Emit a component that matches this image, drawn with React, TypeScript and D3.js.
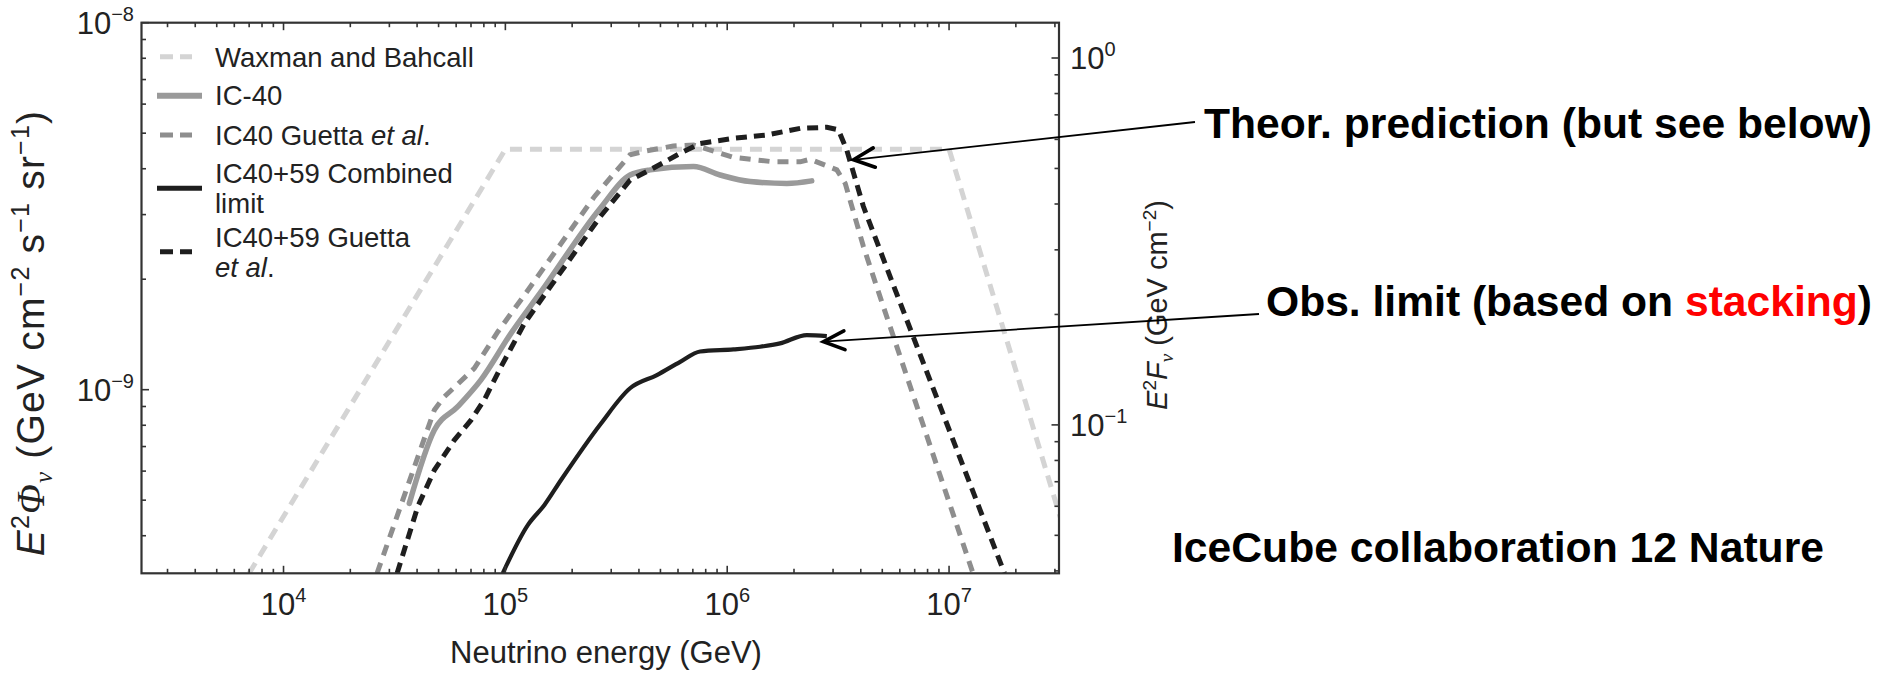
import React from "react";
import * as d3 from "d3";

// ---------- data ----------
const energyDomain: [number, number] = [2290, 3.13e7]; // GeV
const fluxDomain: [number, number] = [3.16e-10, 1e-8]; // E^2 Phi
const fluenceDomain: [number, number] = [0.0394, 1.248]; // E^2 F

const xTickExponents = ["4", "5", "6", "7"];
const xTickValues = [1e4, 1e5, 1e6, 1e7];
const yTickValues = [1e-9, 1e-8];
const yTickExponents = ["−9", "−8"];
const yRightTickValues = [0.1, 1];
const yRightTickExponents = ["−1", "0"];

type P = [number, number];

const waxmanBahcall: P[] = [
  [7000, 3.16e-10],
  [1.0e5, 4.52e-9],
  [1.0e7, 4.52e-9],
  [3.2e7, 4.41e-10],
];

const ic40: P[] = [
  [36900, 4.9e-10],
  [47860, 7.76e-10],
  [60950, 8.99e-10],
  [77620, 1.064e-9],
  [1.062e5, 1.426e-9],
  [1.449e5, 1.849e-9],
  [2.673e5, 3.119e-9],
  [3.648e5, 3.846e-9],
  [4.498e5, 3.972e-9],
  [7.047e5, 4.055e-9],
  [9.29e5, 3.846e-9],
  [1.268e6, 3.69e-9],
  [1.858e6, 3.648e-9],
  [2.404e6, 3.707e-9],
];

const ic40Guetta: P[] = [
  [26400, 3.16e-10],
  [47860, 8.81e-10],
  [53100, 9.57e-10],
  [72400, 1.143e-9],
  [92500, 1.439e-9],
  [1.219e5, 1.811e-9],
  [2.518e5, 3.357e-9],
  [3.648e5, 4.365e-9],
  [4.178e5, 4.457e-9],
  [5.715e5, 4.613e-9],
  [7.047e5, 4.645e-9],
  [1.067e6, 4.295e-9],
  [1.614e6, 4.178e-9],
  [2.133e6, 4.178e-9],
  [2.366e6, 4.246e-9],
  [3.119e6, 3.972e-9],
  [3.404e6, 3.648e-9],
  [4.111e6, 2.455e-9],
  [4.887e6, 1.791e-9],
  [1.282e7, 3.16e-10],
];

const combinedLimit: P[] = [
  [97270, 3.16e-10],
  [1.262e5, 4.276e-10],
  [1.5e5, 4.853e-10],
  [1.782e5, 5.675e-10],
  [2.698e5, 8.091e-10],
  [3.648e5, 1.009e-9],
  [4.819e5, 1.096e-9],
  [6.138e5, 1.191e-9],
  [7.551e5, 1.271e-9],
  [1.067e6, 1.288e-9],
  [1.406e6, 1.309e-9],
  [1.73e6, 1.337e-9],
  [2.286e6, 1.409e-9],
  [2.812e6, 1.4e-9],
];

const combinedGuetta: P[] = [
  [32510, 3.16e-10],
  [40270, 4.8e-10],
  [47860, 6.04e-10],
  [58880, 7.29e-10],
  [69980, 8.26e-10],
  [80350, 9.38e-10],
  [95720, 1.156e-9],
  [1.219e5, 1.517e-9],
  [1.5e5, 1.811e-9],
  [2.673e5, 2.958e-9],
  [3.648e5, 3.724e-9],
  [4.498e5, 3.972e-9],
  [6.138e5, 4.406e-9],
  [7.551e5, 4.688e-9],
  [1.067e6, 4.842e-9],
  [1.51e6, 4.943e-9],
  [2.133e6, 5.152e-9],
  [2.812e6, 5.188e-9],
  [3.17e6, 5.105e-9],
  [3.459e6, 4.498e-9],
  [4.111e6, 3.155e-9],
  [5.715e6, 1.871e-9],
  [1.778e7, 3.16e-10],
];

// annotation targets (data space)
const theorTarget: P = [3.71e6, 4.23e-9];
const obsTarget: P = [2.716e6, 1.352e-9];

// ---------- layout ----------
const W = 1879;
const H = 674;
const L = 141.5, T = 22.7, R = 1059, B = 573.3;
const FONT = "'Liberation Sans', Arial, Helvetica, sans-serif";
const SERIF = "'Liberation Serif', 'DejaVu Serif', serif";
const BOLDNARROW = "'Liberation Sans Narrow', 'Arial Narrow', 'Liberation Sans', Arial, sans-serif";

const C_WB = "#d4d4d4";
const C_IC40 = "#9a9a9a";
const C_G40 = "#8e8e8e";
const C_BLACK = "#1e1e1e";

function Arrow({ tip, tail, len = 23, ang = 25 }: { tip: P; tail: P; len?: number; ang?: number }) {
  const dir = Math.atan2(tail[1] - tip[1], tail[0] - tip[0]);
  const a1 = dir - (ang * Math.PI) / 180;
  const a2 = dir + (ang * Math.PI) / 180;
  const p1: P = [tip[0] + len * Math.cos(a1), tip[1] + len * Math.sin(a1)];
  const p2: P = [tip[0] + len * Math.cos(a2), tip[1] + len * Math.sin(a2)];
  return (
    <g>
      <line x1={tip[0]} y1={tip[1]} x2={tail[0]} y2={tail[1]} stroke="#000" strokeWidth={1.8} />
      <polyline
        points={`${p1[0]},${p1[1]} ${tip[0]},${tip[1]} ${p2[0]},${p2[1]}`}
        fill="none"
        stroke="#000"
        strokeWidth={3.6}
        strokeLinecap="round"
        strokeLinejoin="miter"
      />
    </g>
  );
}

export default function App() {
  const x = d3.scaleLog().domain(energyDomain).range([L, R]);
  const y = d3.scaleLog().domain(fluxDomain).range([B, T]);
  const yR = d3.scaleLog().domain(fluenceDomain).range([B, T]);

  const lin = d3.line<P>().x((d) => x(d[0])).y((d) => y(d[1]));
  const smooth = d3
    .line<P>()
    .x((d) => x(d[0]))
    .y((d) => y(d[1]))
    .curve(d3.curveMonotoneX);

  const isMajor = (v: number) => Math.abs(Math.log10(v) - Math.round(Math.log10(v))) < 1e-6;
  const xt = x.ticks();
  const yt = y.ticks();
  const yrt = yR.ticks();

  const tipT: P = [x(theorTarget[0]), y(theorTarget[1])];
  const tipO: P = [x(obsTarget[0]), y(obsTarget[1])];

  return (
    <svg width={W} height={H} style={{ display: "block", position: "absolute", left: 0, top: 0 }} fontFamily={FONT}>
      <rect width={W} height={H} fill="#fff" />
      <defs>
        <clipPath id="plot">
          <rect x={L} y={T} width={R - L} height={B - T} />
        </clipPath>
      </defs>

      {/* series */}
      <g clipPath="url(#plot)" fill="none">
        <path d={lin(waxmanBahcall) || ""} stroke={C_WB} strokeWidth={5} strokeDasharray="12 8" />
        <path d={lin(ic40Guetta) || ""} stroke={C_G40} strokeWidth={5} strokeDasharray="11 8" />
        <path d={smooth(ic40) || ""} stroke={C_IC40} strokeWidth={5.5} strokeLinecap="round" />
        <path d={lin(combinedGuetta) || ""} stroke={C_BLACK} strokeWidth={5} strokeDasharray="11 7" />
        <path d={smooth(combinedLimit) || ""} stroke={C_BLACK} strokeWidth={4.2} />
      </g>

      {/* ticks */}
      <g stroke="#333" strokeWidth={1.6}>
        {xt.map((v, i) => {
          const len = isMajor(v) ? 7.5 : 4.5;
          return (
            <g key={"xt" + i}>
              <line x1={x(v)} x2={x(v)} y1={B} y2={B - len} />
              <line x1={x(v)} x2={x(v)} y1={T} y2={T + len} />
            </g>
          );
        })}
        {yt.map((v, i) => {
          const len = isMajor(v) ? 7.5 : 4.5;
          return <line key={"yt" + i} x1={L} x2={L + len} y1={y(v)} y2={y(v)} />;
        })}
        {yrt.map((v, i) => {
          const len = isMajor(v) ? 7.5 : 4.5;
          return <line key={"yrt" + i} x1={R} x2={R - len} y1={yR(v)} y2={yR(v)} />;
        })}
      </g>
      <rect x={L} y={T} width={R - L} height={B - T} fill="none" stroke="#333" strokeWidth={2.2} />

      {/* tick labels */}
      <g fill="#222" fontSize={31}>
        {xTickValues.map((v, i) => (
          <text key={"xl" + i} x={x(v)} y={615} textAnchor="middle">
            10<tspan dy={-13} fontSize={20}>{xTickExponents[i]}</tspan>
          </text>
        ))}
        {yTickValues.map((v, i) => (
          <text key={"yl" + i} x={134} y={y(v) + 11} textAnchor="end">
            10<tspan dy={-13} fontSize={20}>{yTickExponents[i]}</tspan>
          </text>
        ))}
        {yRightTickValues.map((v, i) => (
          <text key={"yrl" + i} x={1070} y={yR(v) + 11} textAnchor="start">
            10<tspan dy={-13} fontSize={20}>{yRightTickExponents[i]}</tspan>
          </text>
        ))}
      </g>

      {/* axis titles */}
      <text x={606} y={663} textAnchor="middle" fontSize={31} fill="#222">
        Neutrino energy (GeV)
      </text>
      <text
        transform={`translate(44,333) rotate(-90)`}
        textAnchor="middle"
        fontSize={39}
        letterSpacing={1.2}
        fill="#222"
      >
        <tspan fontStyle="italic">E</tspan>
        <tspan dy={-15} fontSize={25}>2</tspan>
        <tspan dy={15} fontStyle="italic" fontFamily={SERIF}>Φ</tspan>
        <tspan dy={8} fontSize={25} fontStyle="italic" fontFamily={SERIF}>ν</tspan>
        <tspan dy={-8}> (GeV cm</tspan>
        <tspan dy={-15} fontSize={25}>−2</tspan>
        <tspan dy={15}> s</tspan>
        <tspan dy={-15} fontSize={25}>−1</tspan>
        <tspan dy={15}> sr</tspan>
        <tspan dy={-15} fontSize={25}>−1</tspan>
        <tspan dy={15}>)</tspan>
      </text>
      <text transform={`translate(1167,305) rotate(-90)`} textAnchor="middle" fontSize={29} fill="#222">
        <tspan fontStyle="italic">E</tspan>
        <tspan dy={-11} fontSize={19}>2</tspan>
        <tspan dy={11} fontStyle="italic">F</tspan>
        <tspan dy={6} fontSize={19} fontStyle="italic" fontFamily={SERIF}>ν</tspan>
        <tspan dy={-6}> (GeV cm</tspan>
        <tspan dy={-11} fontSize={19}>−2</tspan>
        <tspan dy={11}>)</tspan>
      </text>

      {/* legend */}
      <g fontSize={27.5} fill="#222">
        <line x1={160} x2={192} y1={56.7} y2={56.7} stroke={C_WB} strokeWidth={5} strokeDasharray="13 7" />
        <text x={215} y={67}>Waxman and Bahcall</text>
        <line x1={157} x2={202} y1={95.7} y2={95.7} stroke={C_IC40} strokeWidth={6} />
        <text x={215} y={105}>IC-40</text>
        <line x1={160} x2={192} y1={135} y2={135} stroke={C_G40} strokeWidth={5} strokeDasharray="13 7" />
        <text x={215} y={145}>
          IC40 Guetta <tspan fontStyle="italic">et al</tspan>.
        </text>
        <line x1={157} x2={202} y1={188.3} y2={188.3} stroke={C_BLACK} strokeWidth={5} />
        <text x={215} y={183}>IC40+59 Combined</text>
        <text x={215} y={213}>limit</text>
        <line x1={160} x2={192} y1={251.7} y2={251.7} stroke={C_BLACK} strokeWidth={5} strokeDasharray="13 7" />
        <text x={215} y={247}>IC40+59 Guetta</text>
        <text x={215} y={277}>
          <tspan fontStyle="italic">et al</tspan>.
        </text>
      </g>

      {/* annotations */}
      <Arrow tip={tipT} tail={[1195, 122]} ang={25} />
      <Arrow tip={tipO} tail={[1259, 314]} ang={24} />
      <g fontFamily={BOLDNARROW} fontWeight="bold" fontSize={42} fill="#000">
        <text x={1204} y={138} textLength={668} lengthAdjust="spacingAndGlyphs">
          Theor. prediction (but see below)
        </text>
        <text x={1266} y={316} textLength={606} lengthAdjust="spacingAndGlyphs">
          Obs. limit (based on <tspan fill="#ff0000">stacking</tspan>)
        </text>
        <text x={1172} y={562} textLength={652} lengthAdjust="spacingAndGlyphs">
          IceCube collaboration 12 Nature
        </text>
      </g>
    </svg>
  );
}
